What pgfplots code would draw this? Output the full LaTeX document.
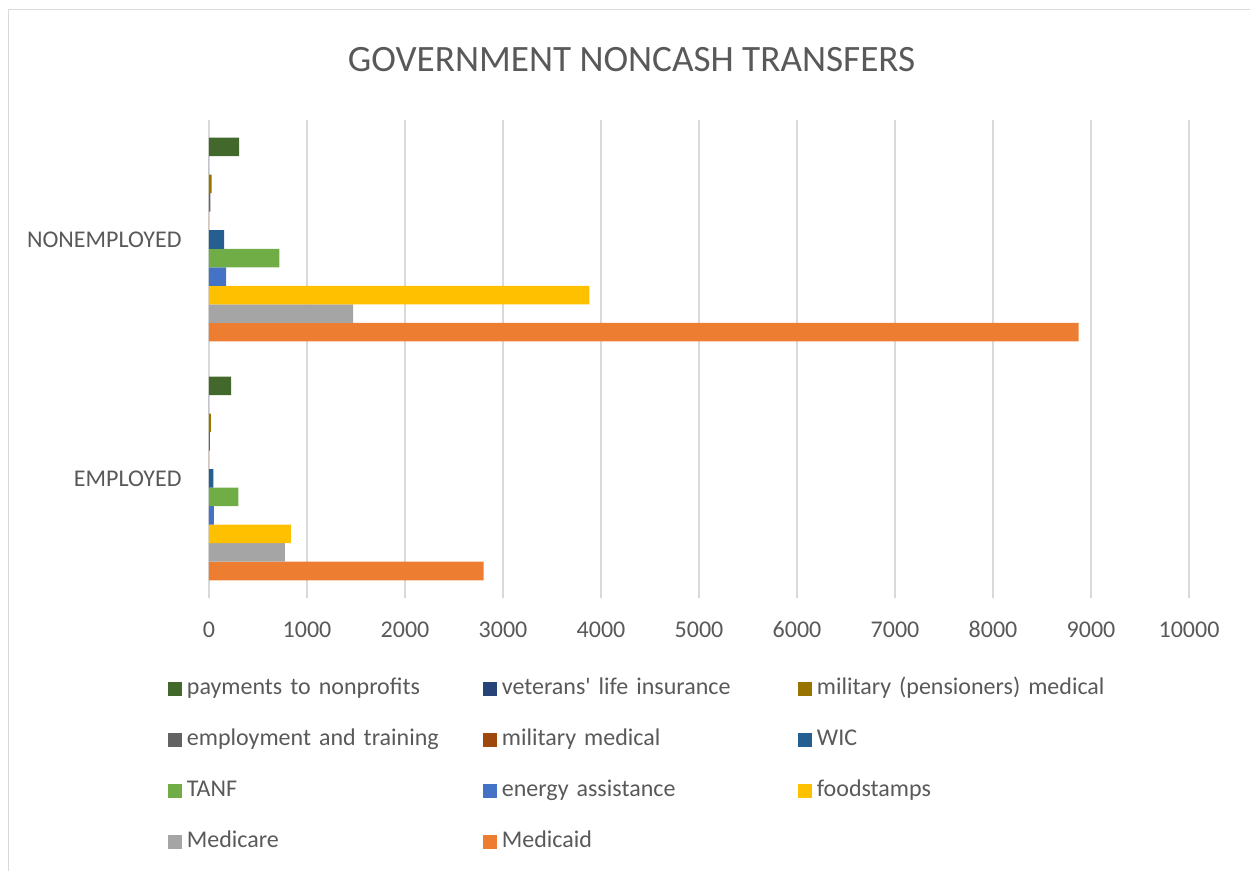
\documentclass[border=0pt]{standalone}
\usepackage{fontspec}
\setmainfont{Carlito}[Ligatures=TeXOff]
\usepackage{pgfplots}
\pgfplotsset{compat=1.18}
\definecolor{txtGray}{HTML}{595959}
\definecolor{gridGray}{HTML}{D9D9D9}
\definecolor{cMedicaid}{HTML}{ED7D31}
\definecolor{cMedicare}{HTML}{A5A5A5}
\definecolor{cFood}{HTML}{FFC000}
\definecolor{cEnergy}{HTML}{4472C4}
\definecolor{cTANF}{HTML}{70AD47}
\definecolor{cWIC}{HTML}{255E91}
\definecolor{cMilMed}{HTML}{9E480E}
\definecolor{cEmploy}{HTML}{636363}
\definecolor{cMilPen}{HTML}{997300}
\definecolor{cVet}{HTML}{264478}
\definecolor{cNonprof}{HTML}{43682B}

\begin{document}
\begin{tikzpicture}
\path[use as bounding box] (0,0) rectangle (625pt,-435.5pt);
\draw[gridGray, line width=0.5pt] (4pt,-435.5pt) -- (4pt,-5pt) -- (625pt,-5pt);
\node[font=\fontsize{18.6}{22}\selectfont, text=txtGray] at (315.8pt,-30pt) {GOVERNMENT NONCASH TRANSFERS};
\begin{axis}[
  at={(104.5pt,-299pt)}, anchor=south west,
  width=490pt, height=239pt, scale only axis,
  xbar=0pt, bar width=9.25pt,
  xmin=0, xmax=10000, ymin=-0.5, ymax=1.5,
  xtick={0,1000,...,10000},
  ytick={0,1}, yticklabels={EMPLOYED,NONEMPLOYED},
  scaled x ticks=false,
  /pgf/number format/1000 sep={},
  /pgf/number format/assume math mode=true,
  xmajorgrids, major grid style={gridGray, line width=0.6pt},
  axis line style={draw=none},
  major tick length=0pt,
  tick label style={font=\fontsize{12}{14}\selectfont, text=txtGray},
  xticklabel style={anchor=center, yshift=-15.75pt},
  yticklabel style={anchor=east, inner sep=0pt, xshift=-13.5pt},
  legend columns=3,
  reverse legend,
  legend image code/.code={\draw[#1, draw=none] (0pt,-3.5pt) rectangle (7pt,3.5pt);},
  legend style={
    at={(-0.04235,-0.1659)}, anchor=north west,
    draw=none, fill=none, inner sep=0pt,
    column sep=2.5pt, row sep=14pt,
    font=\fontsize{12}{14}\selectfont, text=txtGray,
    nodes={inner sep=0pt, anchor=west, text width=145.5pt, align=left, text height=8.5pt, text depth=3pt},
  },
]
\addplot[fill=cMedicaid, draw=none] coordinates {(2803,0) (8874,1)};
\addlegendentry{Medicaid}
\addplot[fill=cMedicare, draw=none] coordinates {(775,0) (1471,1)};
\addlegendentry{Medicare}
\addplot[fill=cFood, draw=none] coordinates {(836,0) (3881,1)};
\addlegendentry{foodstamps}
\addplot[fill=cEnergy, draw=none] coordinates {(51,0) (174,1)};
\addlegendentry{energy assistance}
\addplot[fill=cTANF, draw=none] coordinates {(300,0) (717,1)};
\addlegendentry{TANF}
\addplot[fill=cWIC, draw=none] coordinates {(44,0) (154,1)};
\addlegendentry{WIC}
\addplot[fill=cMilMed, draw=none] coordinates {(0,0) (0,1)};
\addlegendentry{military medical}
\addplot[fill=cEmploy, draw=none] coordinates {(10,0) (15,1)};
\addlegendentry{employment and training}
\addplot[fill=cMilPen, draw=none] coordinates {(20,0) (27,1)};
\addlegendentry{military (pensioners) medical}
\addplot[fill=cVet, draw=none] coordinates {(0,0) (0,1)};
\addlegendentry{veterans' life insurance}
\addplot[fill=cNonprof, draw=none] coordinates {(225,0) (307,1)};
\addlegendentry{payments to nonprofits}
\end{axis}
\end{tikzpicture}
\end{document}
